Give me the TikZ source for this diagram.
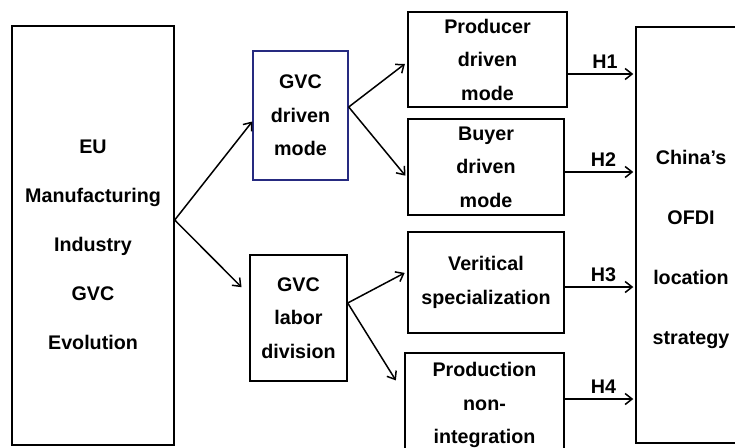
\documentclass[tikz,border=0pt]{standalone}
\usepackage{fontspec}
\setmainfont{Liberation Sans}
\usetikzlibrary{arrows.meta}
\definecolor{boxblue}{RGB}{38,42,128}

\begin{document}
\begin{tikzpicture}
        [x=1pt, y=-1pt,
        every node/.style={align=center, font=\fontsize{19.7}{33.5}\selectfont\bfseries},
        box/.style={draw, line width=1.4pt, inner sep=0pt},
        widetext/.style={font=\fontsize{19.7}{49}\selectfont\bfseries},
        talltext/.style={font=\fontsize{19.7}{60}\selectfont\bfseries},
        link/.style={-{Straight Barb[length=7pt, width=11pt]}, line width=1.5pt},
        hlabel/.style={above=1pt, pos=0.55}]

    \useasboundingbox (0,0) rectangle (735,447);

    \node[box, minimum width=162, minimum height=419] (eu) at (93,235.5) {};
    \node[widetext] (eutext) at (93,245)
      {EU\\Manufacturing\\Industry\\GVC\\Evolution};

    \node[box, draw=boxblue, minimum width=95, minimum height=129] (drv) at (300.5,115.5)
      {GVC\\driven\\mode};
    \node[box, minimum width=97, minimum height=126] (lab) at (298.5,318)
      {GVC\\labor\\division};

    \node[box, minimum width=159, minimum height=95] (prod) at (487.5,59.5)
      {Producer\\driven\\mode};
    \node[box, minimum width=156, minimum height=96] (buy) at (486,167)
      {Buyer\\driven\\mode};
    \node[box, minimum width=156, minimum height=101] (vert) at (486,282.5)
      {Veritical\\specialization};
    \node[box, minimum width=159, minimum height=104] (pni) at (484.5,405)
      {Production\\non-\\integration};

    \node[box, minimum width=110, minimum height=416] (chn) at (691,235) {};
    \node[talltext] (chntext) at (691,249) {China’s\\OFDI\\location\\strategy};

    \coordinate (fork) at ([yshift=15.5pt]eu.east);
    \draw[link] (fork) -- ([yshift=-6pt]drv.west);
    \draw[link, shorten >=11pt] (fork) -- ([yshift=23pt]lab.west);

    \draw[link, shorten >=3pt] ([yshift=8.5pt]drv.east) -- ([yshift=-2.5pt]prod.west);
    \draw[link, shorten >=3pt] ([yshift=8.5pt]drv.east) -- ([yshift=-11pt]buy.west);
    \draw[link, shorten >=3pt] ([yshift=15pt]lab.east) -- ([yshift=11pt]vert.west);
    \draw[link, shorten >=16pt] ([yshift=15pt]lab.east) -- ([yshift=11pt]pni.west);

    \coordinate (h1) at ([yshift=-14.5pt]prod.east);
    \coordinate (h2) at ([yshift=-5pt]buy.east);
    \coordinate (h3) at ([yshift=-4.5pt]vert.east);
    \coordinate (h4) at ([yshift=6pt]pni.east);
    \draw[link, shorten >=2pt] (h1) -- (h1 -| chn.west) node[hlabel] {H1};
    \draw[link, shorten >=2pt] (h2) -- (h2 -| chn.west) node[hlabel] {H2};
    \draw[link, shorten >=2pt] (h3) -- (h3 -| chn.west) node[hlabel] {H3};
    \draw[link, shorten >=2pt] (h4) -- (h4 -| chn.west) node[hlabel] {H4};
\end{tikzpicture}
\end{document}
